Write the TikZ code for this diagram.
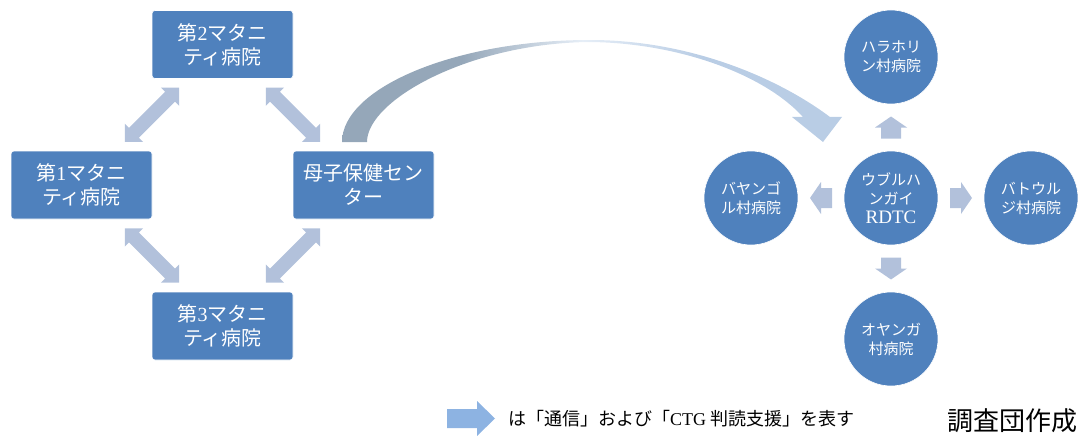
\documentclass[tikz,border=0pt]{standalone}
\usepackage{fontspec}
\setmainfont{Liberation Serif}
\newfontfamily\jp{Noto Sans CJK JP}
\usetikzlibrary{calc}
\definecolor{boxblue}{RGB}{79,129,189}
\definecolor{linkgray}{RGB}{178,193,219}
\definecolor{legendblue}{RGB}{141,179,226}
\definecolor{cgray}{RGB}{149,167,185}
\definecolor{clight}{RGB}{230,238,247}
\definecolor{cblue}{RGB}{185,205,229}
\pgfdeclarehorizontalshading{curveshade}{100bp}{color(0bp)=(cgray); color(37bp)=(cgray); color(49bp)=(clight); color(61bp)=(cblue); color(100bp)=(cblue)}
\newcommand\lat[1]{{\rmfamily #1}}
\tikzset{
  mbox/.style={draw=white, line width=0.6pt, fill=boxblue, rounded corners=3pt,
    minimum width=141pt, minimum height=68pt, text=white, align=center, inner sep=2pt,
    font=\jp\fontsize{20}{24}\selectfont},
  vcircle/.style={circle, draw=white, line width=0.6pt, fill=boxblue, minimum size=94pt,
    inner sep=0pt, text=white, align=center, font=\jp\fontsize{15}{19}\selectfont},
  pics/dblarrow/.style={code={
    \fill[linkgray] (-38.5,0) -- (-25.5,13) -- (-25.5,7) -- (25.5,7) -- (25.5,13) -- (38.5,0)
      -- (25.5,-13) -- (25.5,-7) -- (-25.5,-7) -- (-25.5,-13) -- cycle;}},
  pics/sarrow/.style={code={
    \fill[linkgray] (-11,-10) -- (0,-10) -- (0,-16) -- (11,0) -- (0,16) -- (0,10) -- (-11,10) -- cycle;}},
}
\begin{document}
\begin{tikzpicture}[x=1pt,y=-1pt]
\useasboundingbox (0,0) rectangle (1088,436);

% left group
\node[mbox] (b2) at (222.5,44.5) {第\lat{2}マタニ\\ティ病院};
\node[mbox] (b1) at (81.5,185) {第\lat{1}マタニ\\ティ病院};
\node[mbox] (m) at (363.5,185) {母子保健セン\\ター};
\node[mbox] (b3) at (222.5,326) {第\lat{3}マタニ\\ティ病院};

\pic[rotate=45] at ($(b2.south west)!.5!(b1.north east)$) {dblarrow};
\pic[rotate=-45] at ($(b2.south east)!.5!(m.north west)$) {dblarrow};
\pic[rotate=-45] at ($(b1.south east)!.5!(b3.north west)$) {dblarrow};
\pic[rotate=45] at ($(m.south west)!.5!(b3.north east)$) {dblarrow};

% right group
\node[vcircle] (c) at (891,198) {ウブルハ\\ンガイ\\\lat{\fontsize{19}{19}\selectfont RDTC}};
\node[vcircle] (top) at (891,57) {ハラホリ\\ン村病院};
\node[vcircle] (lft) at (751,198) {バヤンゴ\\ル村病院};
\node[vcircle] (rgt) at (1031,198) {バトウル\\ジ村病院};
\node[vcircle] (bot) at (891,339) {オヤンガ\\村病院};

\pic[rotate=90] at ($(c.north)!.5!(top.south)$) {sarrow};
\pic[rotate=-90] at ($(c.south)!.5!(bot.north)$) {sarrow};
\pic[rotate=180] at ($(c.west)!.5!(lft.east)$) {sarrow};
\pic at ($(c.east)!.5!(rgt.west)$) {sarrow};

% curved arrow
\path[shading=curveshade] (342,142) .. controls (342,88) and (455,40) .. (590,40)
  .. controls (690,40) and (778,78) .. (830,117) -- (842,117) -- (823,142) -- (792,117) -- (803,117)
  .. controls (765,75) and (680,43) .. (590,42) .. controls (470,43) and (367,100) .. (367,142) -- cycle;

% legend
\fill[legendblue] (447,409) -- (477,409) -- (477,401) -- (495,418.5) -- (477,436) -- (477,428) -- (447,428) -- cycle;
\node[anchor=west, inner sep=0pt, font=\jp\fontsize{18}{22}\selectfont] (leg) at (508,418.5)
  {は「通信」および「\lat{CTG} 判読支援」を表す};
\node[anchor=west, inner sep=0pt, font=\jp\fontsize{26}{30}\selectfont] (src) at (947,421) {調査団作成};
\end{tikzpicture}
\end{document}
